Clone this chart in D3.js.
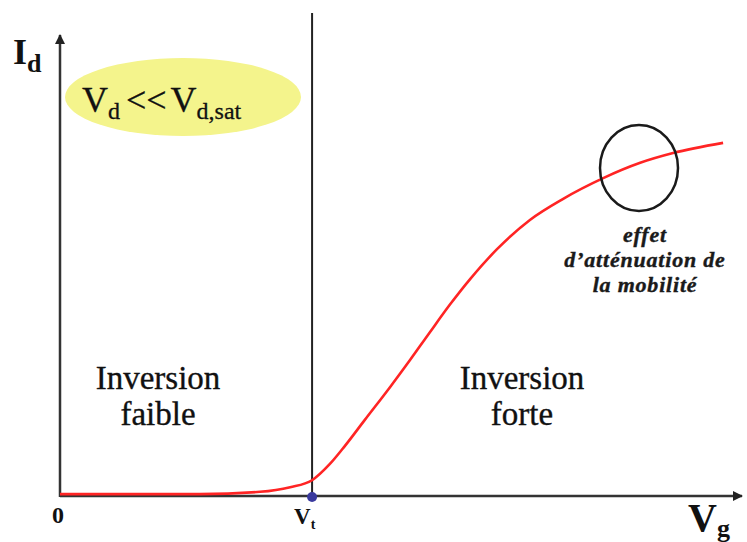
<!DOCTYPE html>
<html><head><meta charset="utf-8">
<script src="https://cdn.jsdelivr.net/npm/d3@7/dist/d3.min.js"></script>
<style>
html,body{margin:0;padding:0;background:#fff;}
svg{display:block;}
</style></head><body>
<svg id="c" width="747" height="542" font-family="'Liberation Serif', 'Times New Roman', serif"></svg>
<script>
// Data (arbitrary units)
const vg = [0, 2.04, 2.92, 3.36, 3.68, 3.94, 4.16, 4.45, 4.82, 5.11, 5.40, 5.69, 5.99, 6.38, 6.86, 7.34, 7.93, 8.47, 8.95, 9.68];
const id = [0.04, 0.04, 0.09, 0.19, 0.34, 0.69, 1.08, 1.64, 2.35, 2.93, 3.53, 4.12, 4.68, 5.32, 5.95, 6.40, 6.85, 7.18, 7.39, 7.61];
const vt = 3.68;
const xLabels = ["0", "V", "t"];
const regionLabels = [["Inversion", "faible"], ["Inversion", "forte"]];
const noteLines = ["effet", "d\u2019atténuation de", "la mobilité"];

const svg = d3.select("#c");
const x = d3.scaleLinear().domain([0, 10]).range([60, 745]);
const y = d3.scaleLinear().domain([0, 10]).range([496, 32]);

const defs = svg.append("defs");
defs.append("marker").attr("id","arr").attr("viewBox","0 0 10 10").attr("refX",9).attr("refY",5)
  .attr("markerWidth",4).attr("markerHeight",4).attr("orient","auto-start-reverse")
  .append("path").attr("d","M0,0 L10,5 L0,10 z").attr("fill","#222");

// yellow ellipse annotation
svg.append("ellipse").attr("cx",183).attr("cy",97).attr("rx",118).attr("ry",39).attr("fill","#f4f48c");
const t1 = svg.append("text").attr("x",82).attr("y",112).attr("font-size",36).attr("fill","#111")
  .attr("stroke","#111").attr("stroke-width",0.3);
t1.append("tspan").text("V");
t1.append("tspan").attr("font-size",24).attr("dy",7).text("d");
t1.append("tspan").attr("dy",-7).attr("dx",6).attr("font-size",36).text("<<");
t1.append("tspan").attr("dx",4).text("V");
t1.append("tspan").attr("font-size",24).attr("dy",7).text("d,sat");

// axes
const xAxis = d3.axisBottom(x).tickValues([]).tickSizeOuter(0);
const gx = svg.append("g").attr("transform",`translate(0,${y(0)})`).call(xAxis);
gx.select(".domain").attr("stroke","#333").attr("stroke-width",2.5).attr("d",`M${x(0)},0H${x(10)-3}`).attr("marker-end","url(#arr)");
const yAxis = d3.axisLeft(y).tickValues([]).tickSizeOuter(0);
const gy = svg.append("g").attr("transform",`translate(${x(0)},0)`).call(yAxis);
gy.select(".domain").attr("stroke","#333").attr("stroke-width",2.5).attr("d",`M0,${y(0)+1}V${y(10)+3}`).attr("marker-end","url(#arr)");

// threshold vertical line
svg.append("line").attr("x1",x(vt)).attr("x2",x(vt)).attr("y1",13).attr("y2",y(0))
  .attr("stroke","#222").attr("stroke-width",2);

// curve
const line = d3.line().x((d,i)=>x(vg[i])).y((d,i)=>y(id[i])).curve(d3.curveMonotoneX);
svg.append("path").datum(vg).attr("d",line).attr("fill","none").attr("stroke","#ff2424").attr("stroke-width",2.6);

// Vt dot
svg.append("circle").attr("cx",x(vt)).attr("cy",y(0)+1).attr("r",5).attr("fill","#3a3a9e");

// black ellipse
svg.append("ellipse").attr("cx",639).attr("cy",168).attr("rx",39).attr("ry",43)
  .attr("fill","none").attr("stroke","#1a1a1a").attr("stroke-width",2.5);

// note text
svg.append("g").selectAll("text").data(noteLines).join("text")
  .attr("x",645).attr("y",(d,i)=>242+i*25).attr("text-anchor","middle")
  .attr("font-size",22).attr("letter-spacing",0.8).attr("font-weight","bold").attr("font-style","italic")
  .attr("fill","#1a1a1a").attr("stroke","#1a1a1a").attr("stroke-width",0.4)
  .text(d=>d);

// region labels
const rx = [158, 522];
regionLabels.forEach((lines,k)=>{
  svg.append("g").selectAll("text").data(lines).join("text")
    .attr("x",rx[k]).attr("y",(d,i)=>389+i*36).attr("text-anchor","middle")
    .attr("font-size",33).attr("fill","#111").attr("stroke","#111").attr("stroke-width",0.35).text(d=>d);
});

// axis labels
const tI = svg.append("text").attr("x",13).attr("y",64).attr("font-size",36).attr("font-weight","bold").attr("fill","#111");
tI.append("tspan").text("I");
tI.append("tspan").attr("font-size",26).attr("dy",8).text("d");

svg.append("text").attr("x",x(0)-2).attr("y",523).attr("text-anchor","middle").attr("font-size",24)
  .attr("font-weight","bold").attr("fill","#111").text(xLabels[0]);
const tV = svg.append("text").attr("x",x(vt)-18).attr("y",524).attr("font-size",23).attr("font-weight","bold").attr("fill","#111");
tV.append("tspan").text(xLabels[1]);
tV.append("tspan").attr("font-size",14).attr("dy",5).text(xLabels[2]);

const tG = svg.append("text").attr("x",688).attr("y",531).attr("font-size",40).attr("font-weight","bold").attr("fill","#111");
tG.append("tspan").text("V");
tG.append("tspan").attr("font-size",26).attr("dy",6).text("g");
</script>
</body></html>
